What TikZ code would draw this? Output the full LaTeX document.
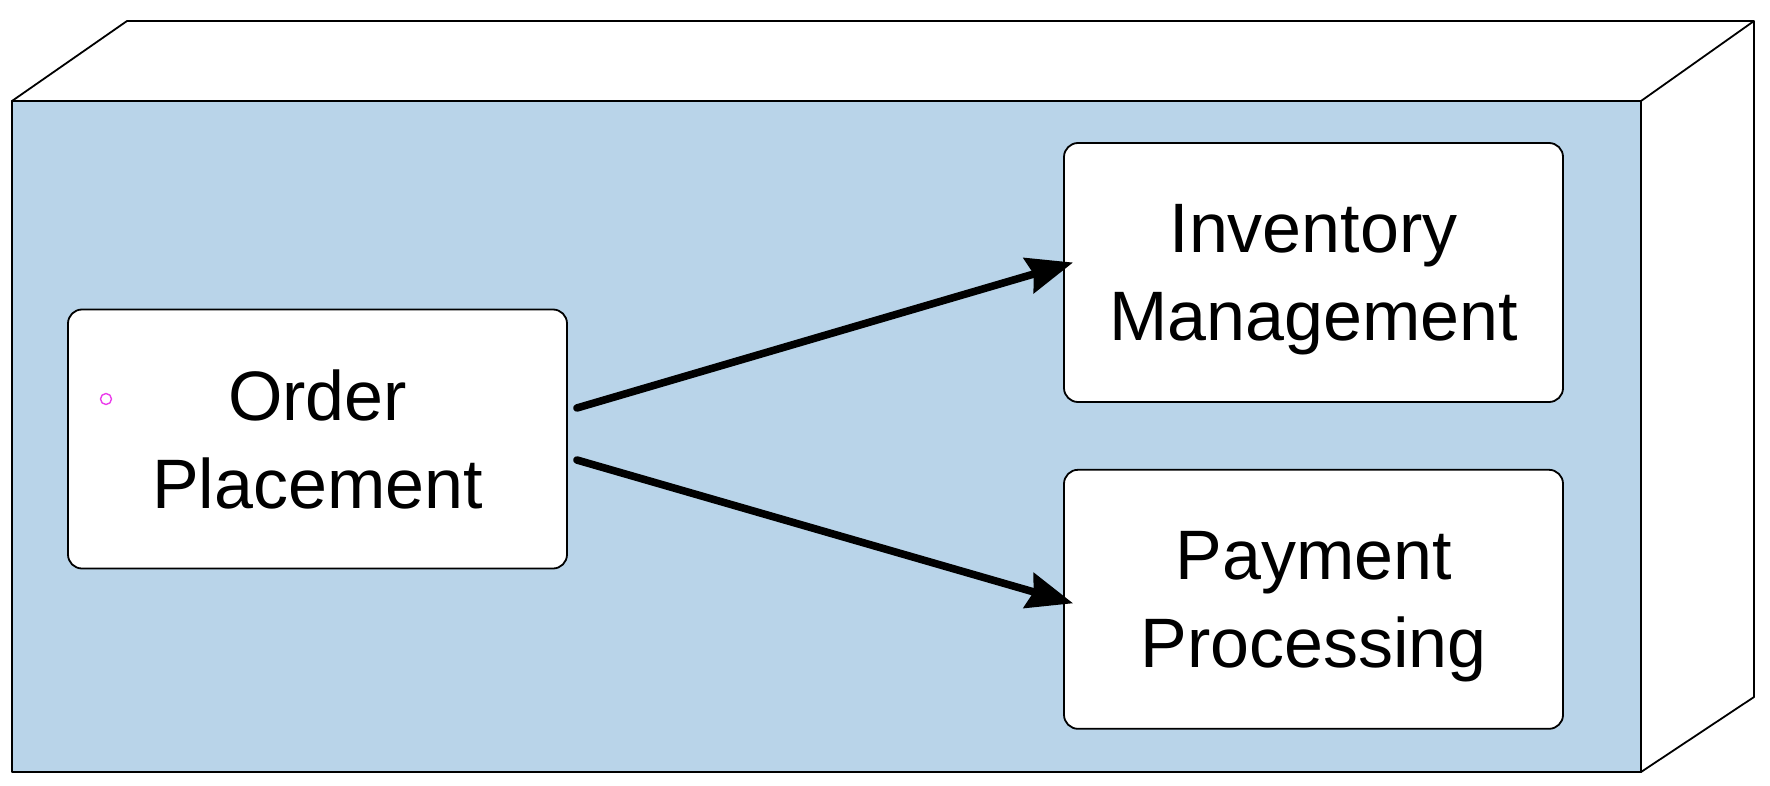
\documentclass[tikz,border=0pt]{standalone}
\usepackage{fontspec}
\setmainfont{Liberation Sans}
\usetikzlibrary{arrows.meta,positioning}
\definecolor{faceblue}{RGB}{185,212,233}
\definecolor{dotpink}{RGB}{235,60,235}

\begin{document}
\begin{tikzpicture}[x=0.5pt,y=-0.5pt,line join=round,
                    >={Stealth[length=23pt,width=18pt,inset=2.5pt]}]

  \tikzstyle{block}=[draw,fill=white,rounded corners=7pt,line width=0.9pt,
                     minimum width=249.5pt,minimum height=129.5pt,
                     text depth=0pt,
                     align=center,font=\fontsize{35}{44}\selectfont]
  \tikzstyle{flow}=[->,line width=3.8pt,line cap=round]

  \useasboundingbox (0,0) rectangle (1770,786);

  \draw[line width=0.9pt,fill=white] (12,101) -- (127,21) -- (1754,21)
        -- (1754,697) -- (1641,772) -- cycle;
  \draw[line width=0.9pt] (1641,101) -- (1754,21);
  \draw[line width=0.9pt,fill=faceblue] (12,101) rectangle (1641,772);

  \node[block] (O) at (317.5,439)   {Order\\Placement};
  \node[block] (I) at (1313.5,272.5) {Inventory\\Management};
  \node[block] (P) [below=33pt of I] {Payment\\Processing};
  \node[circle,draw=dotpink,inner sep=0pt,minimum size=5.5pt,line width=0.7pt]
        (d) at (106,399) {};

  \draw[flow] ([shift={(9,-31)}]O.east) -- ([shift={(10,-10)}]I.west);
  \draw[flow] ([shift={(9,21)}]O.east)  -- ([shift={(10,4)}]P.west);
\end{tikzpicture}
\end{document}
